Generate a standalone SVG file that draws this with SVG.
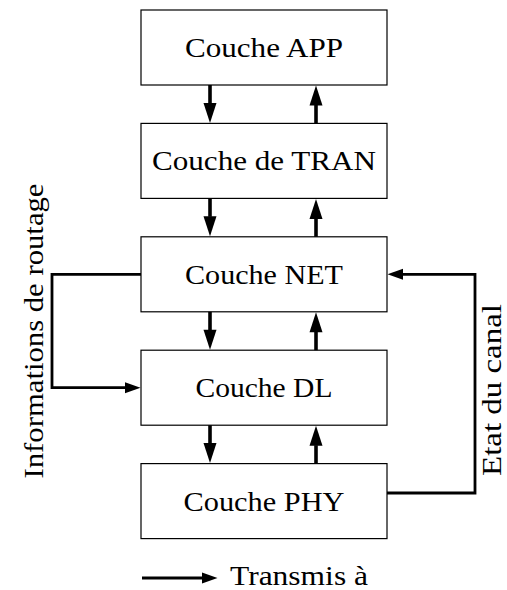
<svg xmlns="http://www.w3.org/2000/svg" width="507" height="590" viewBox="0 0 507 590">
<style>
.box{fill:#fff;stroke:#000;stroke-width:1.2}
.lbl{font-family:"Liberation Serif","Times New Roman",serif;font-size:28px;fill:#000}
.c{text-anchor:middle}
.v{fill:none;stroke:#000;stroke-width:3.6}
.w{fill:none;stroke:#000;stroke-width:2.8}
</style>
<defs>
<marker id="hv" markerUnits="userSpaceOnUse" markerWidth="30" markerHeight="30" refX="0.5" refY="0" orient="auto" viewBox="0 -15 30 30" overflow="visible">
<path d="M0,-6.5 L20,0 L0,6.5 z" fill="#000"/>
</marker>
<marker id="hl" markerUnits="userSpaceOnUse" markerWidth="30" markerHeight="30" refX="0.5" refY="0" orient="auto" viewBox="0 -15 30 30" overflow="visible">
<path d="M0,-5.5 L15.5,0 L0,5.5 z" fill="#000"/>
</marker>
</defs>
<g id="app"><rect class="box" x="141" y="10" width="246" height="75"/><text class="lbl c" x="264" y="57" textLength="158" lengthAdjust="spacingAndGlyphs">Couche APP</text></g>
<g id="tran"><rect class="box" x="141" y="123.4" width="246" height="75"/><text class="lbl c" x="264" y="170.4" textLength="224" lengthAdjust="spacingAndGlyphs">Couche de TRAN</text></g>
<g id="net"><rect class="box" x="141" y="236.8" width="246" height="75"/><text class="lbl c" x="264" y="283.8" textLength="158" lengthAdjust="spacingAndGlyphs">Couche NET</text></g>
<g id="dl"><rect class="box" x="141" y="350.2" width="246" height="75"/><text class="lbl c" x="264" y="397.2" textLength="137" lengthAdjust="spacingAndGlyphs">Couche DL</text></g>
<g id="phy"><rect class="box" x="141" y="463.6" width="246" height="75"/><text class="lbl c" x="264" y="510.6" textLength="161" lengthAdjust="spacingAndGlyphs">Couche PHY</text></g>
<g id="connectors">
<line class="v" x1="210" y1="85" x2="210" y2="103.4" marker-end="url(#hv)"/>
<line class="v" x1="316" y1="123.4" x2="316" y2="105" marker-end="url(#hv)"/>
<line class="v" x1="210" y1="198.4" x2="210" y2="216.8" marker-end="url(#hv)"/>
<line class="v" x1="316" y1="236.8" x2="316" y2="218.4" marker-end="url(#hv)"/>
<line class="v" x1="210" y1="311.8" x2="210" y2="330.2" marker-end="url(#hv)"/>
<line class="v" x1="316" y1="350.2" x2="316" y2="331.8" marker-end="url(#hv)"/>
<line class="v" x1="210" y1="425.2" x2="210" y2="443.6" marker-end="url(#hv)"/>
<line class="v" x1="316" y1="463.6" x2="316" y2="445.2" marker-end="url(#hv)"/>
<path class="w" d="M141,274.3 H52 V387.7 H125.5" marker-end="url(#hl)"/>
<path class="w" d="M387,493 H475 V274.3 H402.5" marker-end="url(#hl)"/>
<line class="w" x1="142" y1="578" x2="202.5" y2="578" marker-end="url(#hl)"/>
</g>
<g id="labels">
<text class="lbl c" transform="translate(43,331) rotate(-90)" textLength="295" lengthAdjust="spacingAndGlyphs">Informations de routage</text>
<text class="lbl c" transform="translate(501,390) rotate(-90)" textLength="172" lengthAdjust="spacingAndGlyphs">Etat du canal</text>
<text class="lbl" x="230" y="585" textLength="138" lengthAdjust="spacingAndGlyphs">Transmis à</text>
</g>
</svg>
